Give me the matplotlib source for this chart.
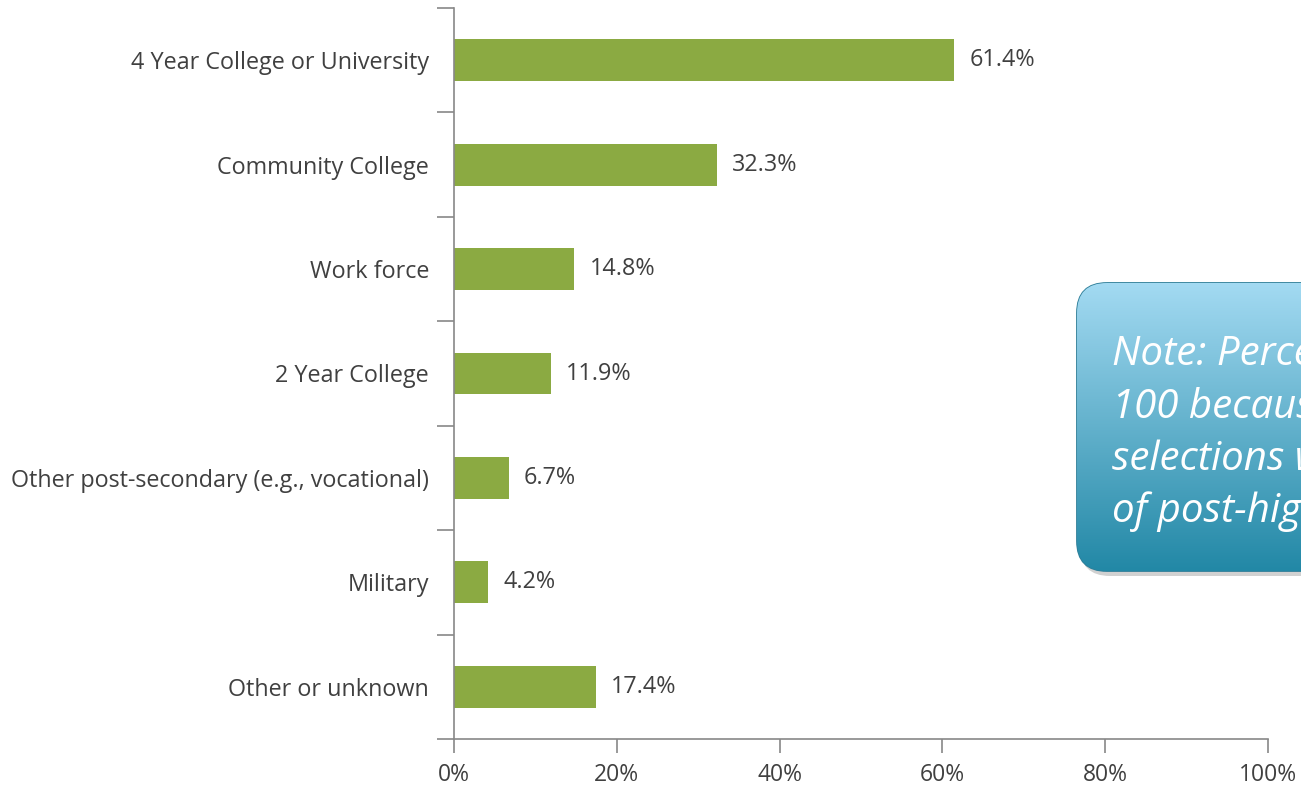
import numpy as np
import matplotlib.pyplot as plt
from matplotlib.patches import FancyBboxPatch
from matplotlib.ticker import FuncFormatter

categorias = ['4 Year College or University', 'Community College', 'Work force',
              '2 Year College', 'Other post-secondary (e.g., vocational)',
              'Military', 'Other or unknown']
valores = [61.4, 32.3, 14.8, 11.9, 6.7, 4.2, 17.4]
nota = ('Note: Percentages do not add to\n100 because multiple\n'
        'selections were allowed\nof post-high school plans')

plt.rcParams['font.family'] = ['Open Sans', 'DejaVu Sans']

fig = plt.figure(figsize=(13.01, 7.86), dpi=100)
ax = fig.add_axes([454/1301, 1 - 739/786, (1268 - 454)/1301, (739 - 8)/786])

y = np.arange(len(categorias))
ax.barh(y, valores, height=0.4, color='#8BAA42')
for yi, v in zip(y, valores):
    ax.text(v + 1.9, yi, f'{v:.1f}%', va='center', ha='left', fontsize=16.8, color='#404040')

ax.set_ylim(len(categorias) - 0.5, -0.5)
ax.set_xlim(0, 100)
ax.set_yticks(y)
ax.set_yticklabels(categorias, fontsize=16.8, color='#404040')
ax.tick_params(axis='y', length=0, pad=18)
ax.set_yticks(np.arange(-0.5, len(categorias)), minor=True)
ax.tick_params(axis='y', which='minor', length=12, color='#888888', width=1.2)
ax.set_xticks(np.arange(0, 101, 20))
ax.xaxis.set_major_formatter(FuncFormatter(lambda v, p: f'{v:.0f}%'))
ax.tick_params(axis='x', length=10, color='#888888', width=1.2, labelsize=16.5,
               labelcolor='#404040', pad=7)
for s in ['top', 'right']:
    ax.spines[s].set_visible(False)
for s in ['left', 'bottom']:
    ax.spines[s].set_color('#888888')
    ax.spines[s].set_linewidth(1.2)

# caixa da nota com gradiente
bg = fig.add_axes([0, 0, 1, 1], zorder=5)
bg.set_xlim(0, 1301)
bg.set_ylim(786, 0)
bg.axis('off')
x0, y0, w, h = 1077, 283, 300, 288
shadow = FancyBboxPatch((x0 + 3, y0 + 5), w, h, boxstyle='round,pad=0,rounding_size=30',
                        facecolor='#000000', alpha=0.18, edgecolor='none')
bg.add_patch(shadow)
box = FancyBboxPatch((x0, y0), w, h, boxstyle='round,pad=0,rounding_size=30',
                     facecolor='none', edgecolor='#2f7f99', linewidth=1.3)
bg.add_patch(box)
top = np.array([0xA3, 0xDA, 0xF2]) / 255
bot = np.array([0x22, 0x88, 0xA6]) / 255
t = np.linspace(0, 1, 256)[:, None]
grad = (top[None, :] * (1 - t) + bot[None, :] * t)[:, None, :]
im = bg.imshow(grad, extent=(x0, x0 + w, y0 + h, y0), aspect='auto', zorder=1)
im.set_clip_path(box)
bg.text(x0 + 35, 522, nota, fontsize=29, style='italic', color='white',
        va='baseline', ha='left', linespacing=1.38, zorder=3)

fig.savefig('out.png', dpi=100)
